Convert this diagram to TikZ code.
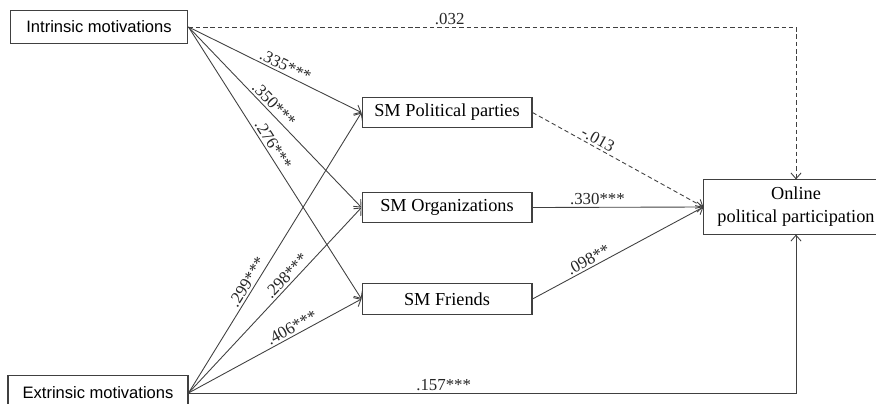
\documentclass[tikz,border=0pt]{standalone}
\usepackage{fontspec}
\setmainfont{Liberation Serif}
\newfontfamily\motfont{Liberation Sans}
\usetikzlibrary{arrows.meta,positioning}

\begin{document}
\begin{tikzpicture}[x=0.024cm,y=-0.024cm,>={Straight Barb[length=4pt,width=7pt]},
  box/.style={draw=black!75,line width=0.7pt,inner sep=0pt,font=\fontsize{12.5}{15.6}\selectfont,align=center},
  mot/.style={box,font=\motfont\fontsize{11.3}{13}\selectfont},
  path/.style={->,black!75,line width=0.6pt},
  lab/.style={font=\fontsize{11.5}{13}\selectfont,inner sep=1.5pt,text=black!85}]
  \useasboundingbox (0,0) rectangle (876,403); \clip (0,0) rectangle (876,403);
  \node[mot,minimum width=4.27cm,minimum height=0.77cm] (intr) at (99,27) {Intrinsic motivations};
  \node[mot,minimum width=4.32cm,minimum height=0.82cm] (extr) at (98,393) {Extrinsic motivations};
  \node[box,minimum width=4.08cm,minimum height=0.74cm] (pol) at (447,112.5) {SM Political parties};
  \node[box,minimum width=4.08cm,minimum height=0.74cm] (org) at (447,207.5) {SM Organizations};
  \node[box,minimum width=4.08cm,minimum height=0.74cm] (fri) at (447,299) {SM Friends};
  \node[box,minimum width=4.42cm,minimum height=1.30cm] (onl) at (796,207) {Online\\political participation};
  % motivations -> SM use
  \foreach \a/\b/\l/\p in {intr/pol/.335***/.54,intr/org/.350***/.46,intr/fri/.276***/.45,extr/pol/.299***/.38,extr/org/.298***/.6,extr/fri/.406***/.62}
    {\draw[path] (\a.east) -- node[lab,sloped,above,pos=\p] {\l} (\b.west);}
  % SM use -> participation
  \draw[path,densely dashed] (pol.east) -- node[lab,sloped,above,pos=.36] {-.013} (onl.west);
  \draw[path] (org.east) -- node[lab,above,pos=.38] {.330***} (onl.west);
  \draw[path] (fri.east) -- node[lab,sloped,above,pos=.35] {.098**} (onl.west);
  % direct effects
  \draw[path,densely dashed] (intr.east) -| node[lab,above,pos=.215] {.032} (onl.north);
  \draw[path] (extr.east) -| node[lab,above,pos=.21] {.157***} (onl.south);
\end{tikzpicture}
\end{document}
